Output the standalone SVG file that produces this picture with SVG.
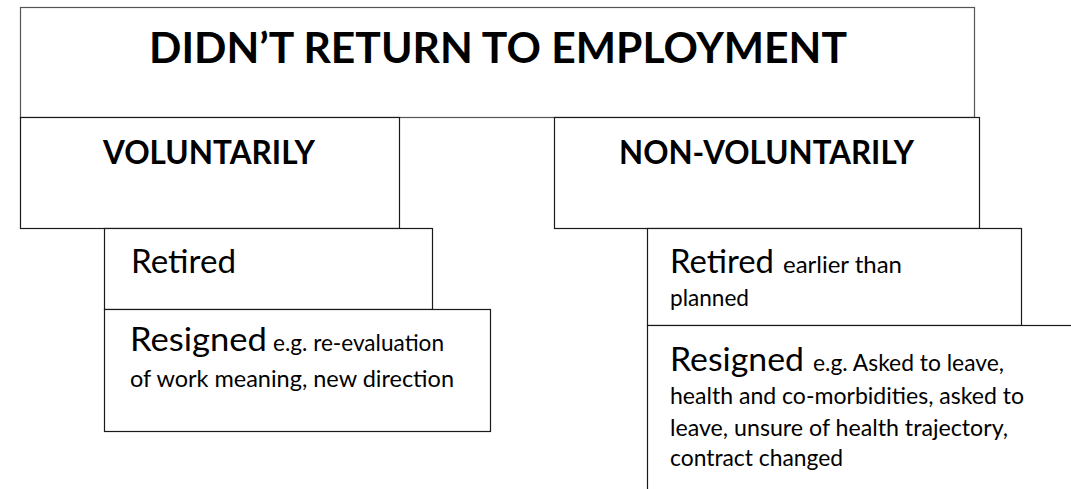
<svg xmlns="http://www.w3.org/2000/svg" width="1071" height="489" viewBox="0 0 1071 489">
<style>
.box{fill:#fff;stroke:#1a1a1a;stroke-width:1.2}
.top{stroke:#555}
text{font-family:Lato,"Liberation Sans",Arial,sans-serif;fill:#000}
.h1{font-size:42px;font-weight:bold}
.h2{font-size:32px;font-weight:bold}
.big{font-size:32px}
.sm{font-size:22.5px}
</style>
<rect width="1071" height="489" fill="#fff"/>
<g id="connectors"></g>
<g id="didnt-return">
<rect class="box top" x="20.5" y="7.5" width="954" height="110"/>
<text class="h1" x="149" y="63" textLength="698" lengthAdjust="spacingAndGlyphs">DIDN’T RETURN TO EMPLOYMENT</text>
</g>
<g id="voluntarily">
<rect class="box" x="20.5" y="117.5" width="379" height="111"/>
<text class="h2" x="103" y="164" textLength="212" lengthAdjust="spacingAndGlyphs">VOLUNTARILY</text>
</g>
<g id="non-voluntarily">
<rect class="box" x="554.5" y="117.5" width="425" height="111"/>
<text class="h2" x="619" y="164" textLength="295" lengthAdjust="spacingAndGlyphs">NON-VOLUNTARILY</text>
</g>
<g id="vol-retired">
<rect class="box" x="104.5" y="228.5" width="328" height="81"/>
<text class="big" x="131" y="273" textLength="105" lengthAdjust="spacingAndGlyphs">Retired</text>
</g>
<g id="vol-resigned">
<rect class="box" x="104.5" y="309.5" width="386" height="122"/>
<text class="big" x="130" y="351" textLength="137" lengthAdjust="spacingAndGlyphs">Resigned</text>
<text class="sm" x="273" y="351" textLength="171" lengthAdjust="spacingAndGlyphs">e.g. re-evaluation</text>
<text class="sm" x="130" y="387" textLength="324" lengthAdjust="spacingAndGlyphs">of work meaning, new direction</text>
</g>
<g id="nonvol-retired">
<rect class="box" x="647.5" y="228.5" width="374" height="97"/>
<text class="big" x="670" y="273" textLength="104" lengthAdjust="spacingAndGlyphs">Retired</text>
<text class="sm" x="783" y="273" textLength="119" lengthAdjust="spacingAndGlyphs">earlier than</text>
<text class="sm" x="670" y="306" textLength="79" lengthAdjust="spacingAndGlyphs">planned</text>
</g>
<g id="nonvol-resigned">
<rect class="box" x="647.5" y="325.5" width="500" height="300"/>
<text class="big" x="670" y="371" textLength="134" lengthAdjust="spacingAndGlyphs">Resigned</text>
<text class="sm" x="813" y="371" textLength="191" lengthAdjust="spacingAndGlyphs">e.g.  Asked to leave,</text>
<text class="sm" x="670" y="404" textLength="354" lengthAdjust="spacingAndGlyphs">health and co-morbidities, asked to</text>
<text class="sm" x="670" y="436" textLength="338" lengthAdjust="spacingAndGlyphs">leave, unsure of health trajectory,</text>
<text class="sm" x="670" y="466" textLength="173" lengthAdjust="spacingAndGlyphs">contract changed</text>
</g>
</svg>
